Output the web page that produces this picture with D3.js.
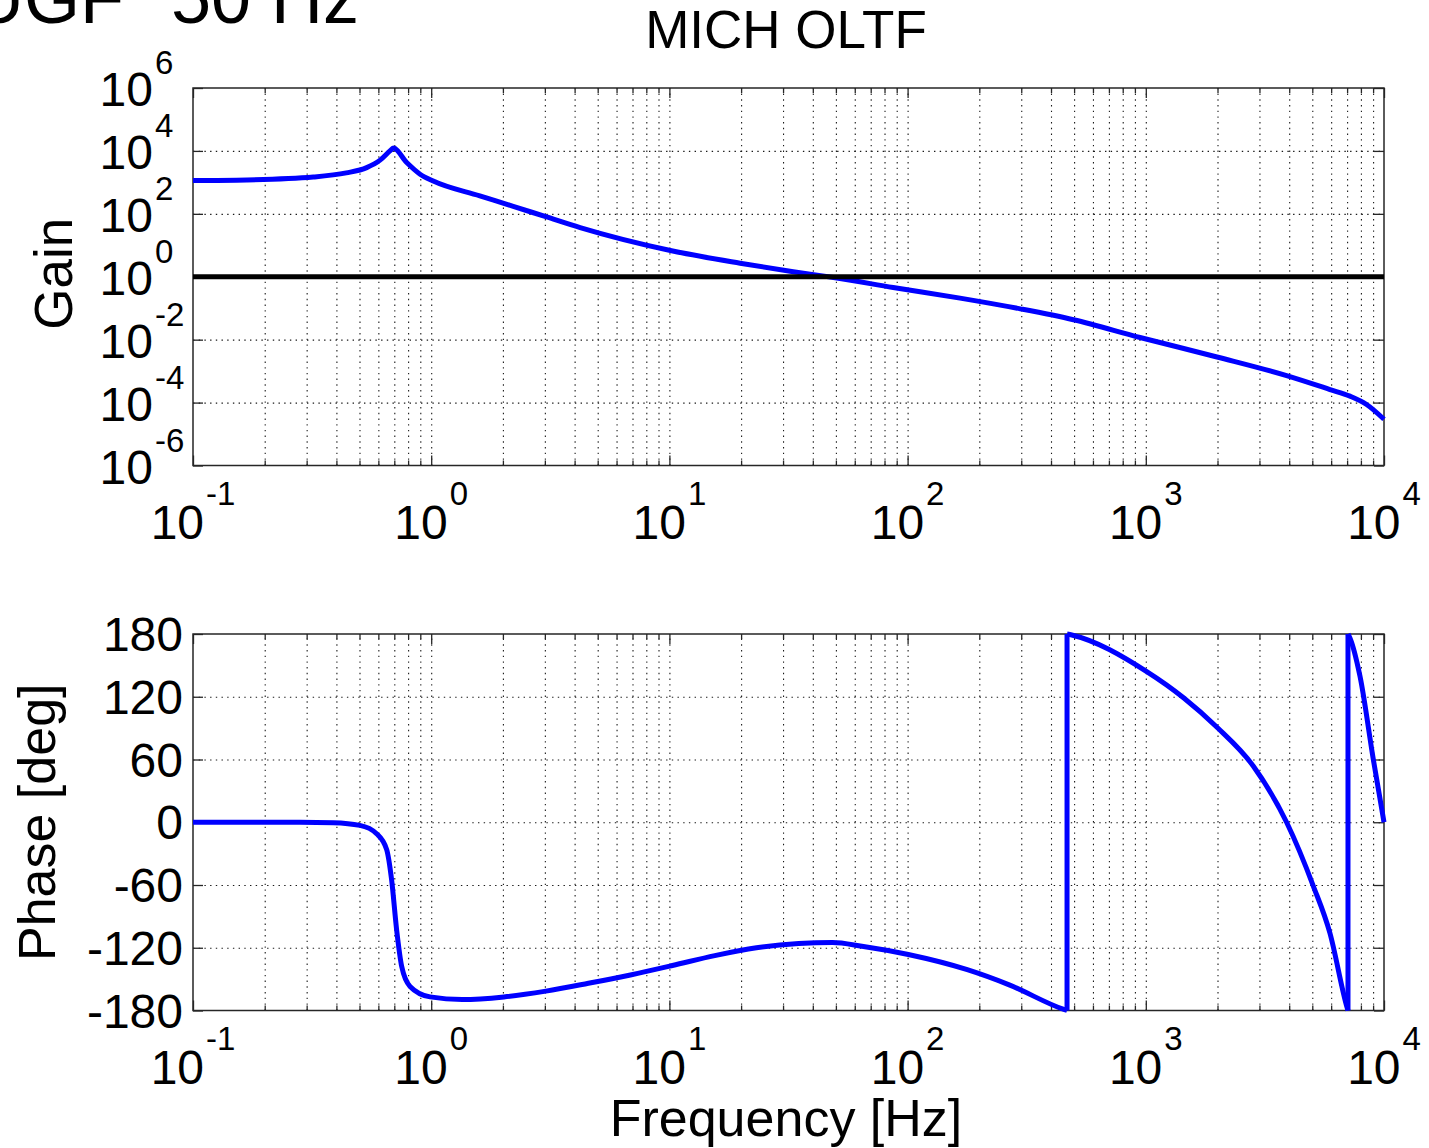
<!DOCTYPE html>
<html>
<head>
<meta charset="utf-8">
<script src="https://cdn.jsdelivr.net/npm/d3@7"></script>
<style>
  body { margin: 0; background: #fff; }
  text { font-family: "Liberation Sans", Arial, Helvetica, sans-serif; fill: #000; }
</style>
</head>
<body>
<div id="bode"></div>
<script>
// MICH open loop transfer function (Bode plot)

const WIDTH = 1429
const HEIGHT = 1148

// Gain curve
const gainFreq = [0.1, 0.168, 0.32, 0.44, 0.536, 0.61, 0.671, 0.693, 0.789, 0.898, 1.02, 1.6, 2.21, 3.05, 4.22,
  10.1, 19.8, 33.1, 50.4, 87, 166, 297, 497, 946, 1990, 3900, 5930, 7200, 8450, 10000]
const gainMag = [1150, 1200, 1480, 2000, 2950, 5100, 10000, 12300, 4270, 1820, 1100, 372, 174, 79.4, 36.3,
  6.8, 2.7, 1.45, 0.91, 0.457, 0.209, 0.0955, 0.043, 0.01175, 0.00282, 7.2e-4, 2.6e-4, 1.6e-4, 8.7e-5, 2.95e-5]
const UNITY_GAIN = 1

// Phase curve, wrapped to +-180 (a repeated frequency is a wrap)
const phaseFreq = [0.1, 0.281, 0.388, 0.502, 0.59, 0.65, 0.682, 0.716, 0.752, 0.815, 0.989, 1.35, 2.02, 3.03,
  4.57, 6.86, 10.3, 15.5, 23.2, 34.9, 48.4, 64.3, 100.7, 178, 267, 453, 467,
  467, 489, 1009, 1440, 1985, 2830, 3900, 5050, 5930, 6970, 7060,
  7060, 7200, 7930, 9020, 10000]
const phaseDeg = [0, 0, -0.5, -3, -11, -26, -55, -103, -138, -157, -167, -169.5, -167, -161.5,
  -154, -146, -137, -127.5, -120, -116, -115, -118.5, -126.5, -141, -155.5, -179, -180,
  180, 179, 144, 119, 91, 53.5, 0, -61, -106, -175.7, -180,
  180, 176, 139.5, 60, 0]

// Tick labels
const freqTickExps = [-1, 0, 1, 2, 3, 4]
const gainTickExps = [-6, -4, -2, 0, 2, 4, 6]
const phaseTicks = [-180, -120, -60, 0, 60, 120, 180]

const MARGIN = { left: 193, right: 1384 }
const GAINBOX = { top: 88, bot: 465.5 }
const PHASEBOX = { top: 634, bot: 1010.5 }
const BLUE = "#0000ff"

const SVG = d3.select("#bode")
  .append("svg")
  .attr("width", WIDTH)
  .attr("height", HEIGHT)

const xScale = d3.scaleLog()
  .domain([0.1, 1e4])
  .range([MARGIN.left, MARGIN.right])

const gainScale = d3.scaleLog()
  .domain([1e-6, 1e6])
  .range([GAINBOX.bot, GAINBOX.top])

const phaseScale = d3.scaleLinear()
  .domain([-180, 180])
  .range([PHASEBOX.bot, PHASEBOX.top])

const majorFreqs = freqTickExps.map(e => Math.pow(10, e))
const minorFreqs = []
freqTickExps.slice(0, -1).forEach(e => {
  for (let k = 2; k <= 9; k++) minorFreqs.push(k * Math.pow(10, e))
})
const allFreqs = majorFreqs.concat(minorFreqs)

function styleGrid(g) {
  g.select(".domain").remove()
  g.selectAll(".tick line")
    .attr("stroke", "#1a1a1a")
    .attr("stroke-width", 1.1)
    .attr("stroke-dasharray", "1.4,4.3")
  g.selectAll("text").remove()
}

function styleTicks(g) {
  g.select(".domain").remove()
  g.selectAll(".tick line").attr("stroke", "#262626").attr("stroke-width", 1.3)
  g.selectAll("text").remove()
}

function drawFrame(box, yScale, yMajors) {
  const h = box.bot - box.top
  const w = MARGIN.right - MARGIN.left

  // grid
  SVG.append("g")
    .attr("transform", `translate(0, ${box.bot})`)
    .call(d3.axisBottom(xScale).tickValues(allFreqs.filter(f => f > 0.1 && f < 1e4)).tickSize(-h).tickFormat(""))
    .call(styleGrid)

  SVG.append("g")
    .attr("transform", `translate(${MARGIN.left}, 0)`)
    .call(d3.axisLeft(yScale).tickValues(yMajors.slice(1, -1)).tickSize(-w).tickFormat(""))
    .call(styleGrid)

  // ticks, pointing inward on all four sides
  const tickSets = [[majorFreqs, 10], [minorFreqs, 5]]
  tickSets.forEach(([vals, len]) => {
    SVG.append("g")
      .attr("transform", `translate(0, ${box.bot})`)
      .call(d3.axisBottom(xScale).tickValues(vals).tickSize(-len).tickFormat(""))
      .call(styleTicks)
    SVG.append("g")
      .attr("transform", `translate(0, ${box.top})`)
      .call(d3.axisTop(xScale).tickValues(vals).tickSize(-len).tickFormat(""))
      .call(styleTicks)
  })
  SVG.append("g")
    .attr("transform", `translate(${MARGIN.left}, 0)`)
    .call(d3.axisLeft(yScale).tickValues(yMajors).tickSize(-10).tickFormat(""))
    .call(styleTicks)
  SVG.append("g")
    .attr("transform", `translate(${MARGIN.right}, 0)`)
    .call(d3.axisRight(yScale).tickValues(yMajors).tickSize(-10).tickFormat(""))
    .call(styleTicks)

  // box
  SVG.append("rect")
    .attr("x", MARGIN.left)
    .attr("y", box.top)
    .attr("width", w)
    .attr("height", h)
    .attr("fill", "none")
    .attr("stroke", "#262626")
    .attr("stroke-width", 1.5)
}

function drawFreqLabels(baseY) {
  freqTickExps.forEach(e => {
    const t = SVG.append("text")
      .attr("x", xScale(Math.pow(10, e)))
      .attr("y", baseY)
      .attr("text-anchor", "middle")
    t.append("tspan").attr("font-size", 48).text("10")
    t.append("tspan").attr("font-size", 33).attr("dx", 2).attr("dy", -34).text(String(e))
  })
}

// ---------- Gain panel ----------
drawFrame(GAINBOX, gainScale, gainTickExps.map(e => Math.pow(10, e)))

gainTickExps.forEach(e => {
  const y = gainScale(Math.pow(10, e))
  SVG.append("text")
    .attr("x", 153)
    .attr("y", y + 18)
    .attr("text-anchor", "end")
    .attr("font-size", 48)
    .text("10")
  SVG.append("text")
    .attr("x", 155)
    .attr("y", y - 14)
    .attr("font-size", 33)
    .text(String(e))
})
drawFreqLabels(539)

const gainLine = d3.line()
  .x(d => xScale(d[0]))
  .y(d => gainScale(d[1]))
  .curve(d3.curveMonotoneX)

SVG.append("path")
  .attr("d", gainLine(d3.zip(gainFreq, gainMag)))
  .attr("fill", "none")
  .attr("stroke", BLUE)
  .attr("stroke-width", 5)
  .attr("stroke-linejoin", "round")

SVG.append("line")
  .attr("x1", xScale(0.1))
  .attr("x2", xScale(1e4))
  .attr("y1", gainScale(UNITY_GAIN))
  .attr("y2", gainScale(UNITY_GAIN))
  .attr("stroke", "#000")
  .attr("stroke-width", 5)

SVG.append("text")
  .attr("transform", `translate(72, ${gainScale(UNITY_GAIN) - 3}) rotate(-90)`)
  .attr("text-anchor", "middle")
  .attr("font-size", 53)
  .text("Gain")

// ---------- Phase panel ----------
drawFrame(PHASEBOX, phaseScale, phaseTicks)

phaseTicks.forEach(p => {
  SVG.append("text")
    .attr("x", 183)
    .attr("y", phaseScale(p) + 17)
    .attr("text-anchor", "end")
    .attr("font-size", 48)
    .text(String(p))
})
drawFreqLabels(539 + (PHASEBOX.bot - GAINBOX.bot))

// split the wrapped phase into segments at repeated frequencies
const phasePts = d3.zip(phaseFreq, phaseDeg)
const segments = [[phasePts[0]]]
const jumps = []
for (let k = 1; k < phasePts.length; k++) {
  if (phasePts[k][0] === phasePts[k - 1][0]) {
    jumps.push([phasePts[k - 1], phasePts[k]])
    segments.push([])
  }
  segments[segments.length - 1].push(phasePts[k])
}

const phaseLine = d3.line()
  .x(d => xScale(d[0]))
  .y(d => phaseScale(d[1]))
  .curve(d3.curveMonotoneX)

SVG.append("g")
  .selectAll("path.phase-seg")
  .data(segments)
  .join("path")
  .attr("class", "phase-seg")
  .attr("d", d => phaseLine(d))
  .attr("fill", "none")
  .attr("stroke", BLUE)
  .attr("stroke-width", 5)
  .attr("stroke-linejoin", "round")

SVG.append("g")
  .selectAll("line.phase-jump")
  .data(jumps)
  .join("line")
  .attr("class", "phase-jump")
  .attr("x1", d => xScale(d[0][0]))
  .attr("x2", d => xScale(d[1][0]))
  .attr("y1", d => phaseScale(d[0][1]))
  .attr("y2", d => phaseScale(d[1][1]))
  .attr("stroke", BLUE)
  .attr("stroke-width", 5)

SVG.append("text")
  .attr("transform", `translate(55, ${phaseScale(0)}) rotate(-90)`)
  .attr("text-anchor", "middle")
  .attr("font-size", 52)
  .text("Phase [deg]")

SVG.append("text")
  .attr("x", 786)
  .attr("y", 1136)
  .attr("text-anchor", "middle")
  .attr("font-size", 52)
  .text("Frequency [Hz]")

// ---------- Titles ----------
SVG.append("text")
  .attr("x", 786)
  .attr("y", 48)
  .attr("text-anchor", "middle")
  .attr("font-size", 53)
  .text("MICH OLTF")

// partly outside the top edge, as in the source figure
const ugf = SVG.append("text")
  .attr("x", -28)
  .attr("y", 23)
  .attr("font-size", 72)
ugf.append("tspan").text("UGF")
ugf.append("tspan").attr("dx", 27).text(" 50 Hz")
</script>
</body>
</html>
